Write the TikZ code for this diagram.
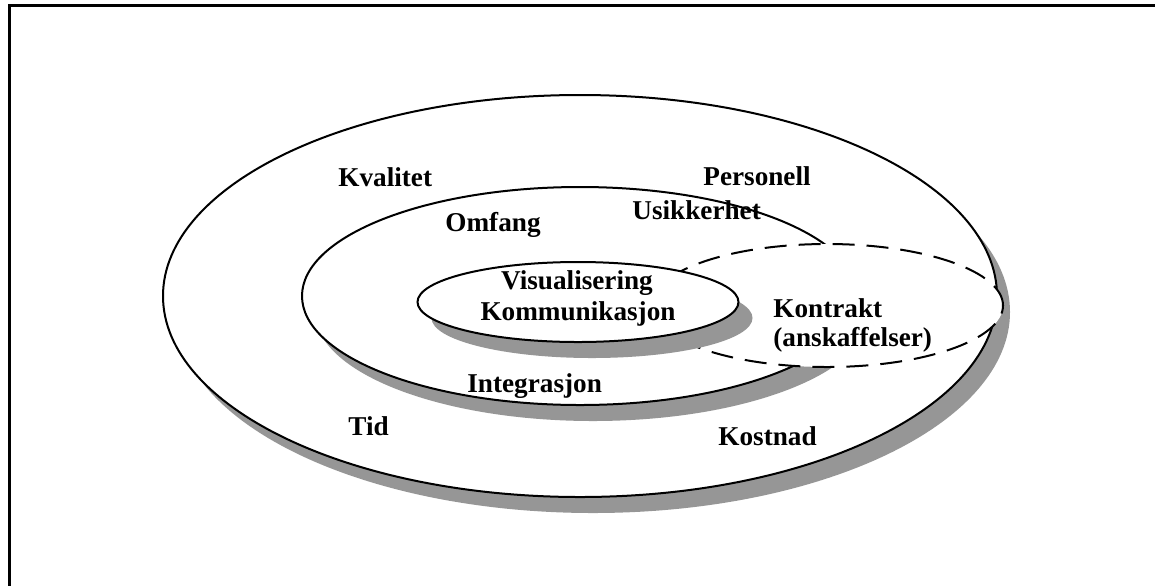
\documentclass[tikz,border=0pt]{standalone}
\usepackage{fontspec}
\setmainfont{Liberation Serif}
\definecolor{shadowgray}{RGB}{150,150,150}
\begin{document}
\begin{tikzpicture}[x=0.5pt,y=-0.5pt,
  shadowfill/.style={fill=shadowgray,draw=none},
  ring/.style={fill=white,draw=black,line width=1pt},
  dashring/.style={fill=white,draw=black,line width=1pt,dash pattern=on 11pt off 6pt},
  lbl/.style={inner sep=0pt,font=\fontsize{13.6pt}{16pt}\selectfont\bfseries}]
\useasboundingbox (0,0) rectangle (1155,585);
\clip (0,0) rectangle (1155,585);
% frame (only top and left edges lie inside the picture)
\draw[line width=1.5pt] (9.5,620) |- (1190,5.5);
% outer ring
\fill[shadowfill] (593,312) ellipse [x radius=208.5pt, y radius=100.5pt];
\draw[ring] (580,296) ellipse [x radius=208.5pt, y radius=100.5pt];
% middle ring
\fill[shadowfill] (593,312) ellipse [x radius=139pt, y radius=54.5pt];
\draw[ring] (580,296) ellipse [x radius=139pt, y radius=54.5pt];
% dashed ring
\draw[dashring] (827,305.5) ellipse [x radius=88pt, y radius=30.75pt];
% inner ring
\fill[shadowfill] (592,318) ellipse [x radius=80.25pt, y radius=20pt];
\draw[ring] (578,302) ellipse [x radius=80.25pt, y radius=20pt];
% labels
\node[lbl,anchor=base west] (kval) at (338,186) {Kvalitet};
\node[lbl,anchor=base west] (pers) at (703,185) {Personell};
\node[lbl,anchor=base west] (omf) at (445,231) {Omfang};
\node[lbl,anchor=base west] (usik) at (632,219) {Usikkerhet};
\node[lbl,anchor=base] (vis) at (577,289) {Visualisering};
\node[lbl,anchor=base] (komm) at (578,320) {Kommunikasjon};
\node[lbl,anchor=base west] (kontr) at (773,317) {Kontrakt};
\node[lbl,anchor=base west] (ansk) at (773,346) {(anskaffelser)};
\node[lbl,anchor=base west] (integ) at (467,392) {Integrasjon};
\node[lbl,anchor=base west] (tid) at (348,435) {Tid};
\node[lbl,anchor=base west] (kost) at (718,445) {Kostnad};
\end{tikzpicture}
\end{document}
